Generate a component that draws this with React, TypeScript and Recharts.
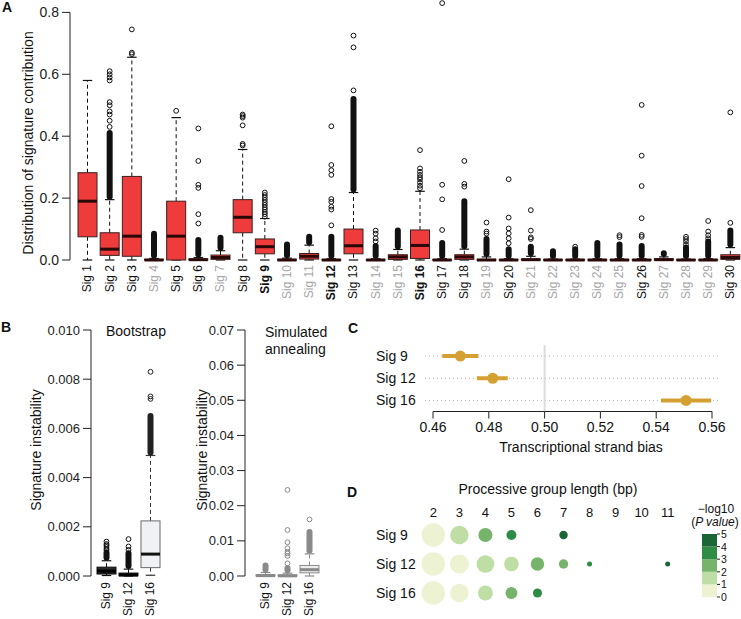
import React from 'react';
import {
  ComposedChart, Bar, XAxis, YAxis, ScatterChart, Scatter, ZAxis, ErrorBar,
  ReferenceLine, Cell, BarChart,
} from 'recharts';

const FONT = '"Liberation Sans", Arial, Helvetica, sans-serif';

// ---------------- Panel A data ----------------
const sigNames = Array.from({ length: 30 }, (_, i) => `Sig ${i + 1}`);
const sigBold = ['Sig 9', 'Sig 12', 'Sig 16'];
const sigGray = ['Sig 4', 'Sig 7', 'Sig 10', 'Sig 11', 'Sig 14', 'Sig 15', 'Sig 19', 'Sig 21',
  'Sig 22', 'Sig 23', 'Sig 24', 'Sig 25', 'Sig 27', 'Sig 28', 'Sig 29'];
const aTicks = [0, 0.2, 0.4, 0.6, 0.8];

const aWhiskerLow = [0, 0, 0, 0, 0, 0, 0, 0, 0, 0, 0, 0, 0, 0, 0, 0, 0, 0, 0, 0, 0, 0, 0, 0, 0, 0, 0, 0, 0, 0];
const aQ1 = [0.075, 0.015, 0.012, 0, 0, 0, 0.002, 0.088, 0.02, 0, 0.003, 0, 0.02, 0, 0.002, 0.005, 0, 0.002, 0, 0, 0, 0, 0, 0, 0, 0, 0, 0, 0, 0.002];
const aMedian = [0.19, 0.035, 0.077, 0, 0.077, 0.001, 0.008, 0.138, 0.043, 0, 0.012, 0, 0.046, 0, 0.01, 0.047, 0, 0.01, 0, 0, 0.001, 0, 0, 0, 0, 0, 0.001, 0, 0, 0.008];
const aQ3 = [0.282, 0.088, 0.27, 0.002, 0.19, 0.003, 0.016, 0.195, 0.068, 0.002, 0.021, 0.001, 0.1, 0.001, 0.017, 0.097, 0.001, 0.017, 0.002, 0.001, 0.003, 0.001, 0.001, 0.001, 0.001, 0.001, 0.004, 0.001, 0.001, 0.017];
const aWhiskerHigh = [0.58, 0.195, 0.655, 0.005, 0.46, 0.008, 0.03, 0.357, 0.134, 0.006, 0.048, 0.004, 0.218, 0.004, 0.034, 0.222, 0.004, 0.035, 0.01, 0.004, 0.012, 0.003, 0.003, 0.004, 0.004, 0.004, 0.01, 0.003, 0.004, 0.04];
const aDenseTop = [null, 0.41, null, 0.085, null, 0.065, 0.072, null, null, 0.05, 0.075, 0.075, 0.52, 0.045, 0.095, null, 0.055, 0.19, 0.068, 0.035, 0.043, 0.028, 0.035, 0.055, 0.05, 0.045, 0.022, 0.04, 0.06, 0.095];
const aOutliers = [
  [],
  [0.43, 0.45, 0.47, 0.48, 0.5, 0.51, 0.58, 0.59, 0.6, 0.61],
  [0.665, 0.67, 0.745],
  [],
  [0.482],
  [0.118, 0.148, 0.233, 0.243, 0.32, 0.425],
  [],
  [0.37, 0.375, 0.435, 0.46, 0.465, 0.47],
  [0.14, 0.148, 0.155, 0.163, 0.17, 0.178, 0.186, 0.194, 0.202, 0.21, 0.218],
  [],
  [],
  [0.112, 0.163, 0.172, 0.188, 0.197, 0.275, 0.29, 0.307, 0.432],
  [0.548, 0.687, 0.725],
  [0.06, 0.07, 0.085, 0.095],
  [],
  [0.232, 0.24, 0.25, 0.26, 0.267, 0.275, 0.285, 0.296, 0.355],
  [0.097, 0.196, 0.243, 0.83],
  [0.237, 0.246, 0.32],
  [0.085, 0.092, 0.121],
  [0.054, 0.07, 0.086, 0.102, 0.137, 0.261],
  [0.068, 0.073, 0.095, 0.161],
  [],
  [0.043],
  [],
  [0.074, 0.08],
  [0.075, 0.081, 0.135, 0.239, 0.337, 0.501],
  [],
  [0.05, 0.06, 0.068, 0.075],
  [0.07, 0.08, 0.092, 0.126],
  [0.12, 0.477],
];

// ---------------- Panel B data ----------------
const bSigs = ['Sig 9', 'Sig 12', 'Sig 16'];
const bootTicks = [0, 0.002, 0.004, 0.006, 0.008, 0.01];
const bootWhiskerLow = [0.00002, 0, 0.00003];
const bootQ1 = [0.00008, 0.00001, 0.00034];
const bootMedian = [0.0002, 0.00004, 0.00089];
const bootQ3 = [0.00036, 0.00012, 0.00224];
const bootWhiskerHigh = [0.00062, 0.00028, 0.0049];
const bootDenseTop = [0.00095, 0.00092, 0.0065];
const bootOutliers = [
  [0.00105, 0.0011, 0.00118, 0.00125, 0.0013, 0.0014],
  [0.00106, 0.0012, 0.0015],
  [0.0072, 0.0073, 0.0083],
];

const annTicks = [0, 0.01, 0.02, 0.03, 0.04, 0.05, 0.06, 0.07];
const annWhiskerLow = [0, 0, 0];
const annQ1 = [0, 0, 0.0009];
const annMedian = [0.0001, 0.00005, 0.0018];
const annQ3 = [0.0004, 0.0003, 0.003];
const annWhiskerHigh = [0.001, 0.0008, 0.0063];
const annDenseTop = [0.003, 0.0022, 0.0125];
const annOutliers = [
  [],
  [0.0036, 0.0057, 0.0064, 0.0069, 0.0079, 0.0096, 0.0131, 0.0245],
  [0.0161],
];

// ---------------- Panel C data ----------------
const biasSigs = ['Sig 9', 'Sig 12', 'Sig 16'];
const biasEstimate = [0.4698, 0.4814, 0.5507];
const biasLow = [0.4633, 0.4757, 0.5417];
const biasHigh = [0.4763, 0.4868, 0.5597];
const biasTicks = [0.46, 0.48, 0.5, 0.52, 0.54, 0.56];

// ---------------- Panel D data ----------------
const procSigs = ['Sig 9', 'Sig 12', 'Sig 16'];
const groupLengths = [2, 3, 4, 5, 6, 7, 8, 9, 10, 11];
const freqSig9 = [100, 62, 36, 18, null, 13, null, null, null, null];
const freqSig12 = [100, 66, 57, 39, 33, 16, 4.6, null, null, 4.6];
const freqSig16 = [100, 62, 41, 26, 15, null, null, null, null, null];
const logpSig9 = [0.4, 1.5, 2.5, 3.6, null, 4.5, null, null, null, null];
const logpSig12 = [0.3, 0.5, 1.4, 1.2, 2.4, 2.2, 3.3, null, null, 4.2];
const logpSig16 = [0.2, 0.6, 1.5, 2.6, 3.5, null, null, null, null, null];
const legendBreaks = [0, 1, 2, 3, 4, 5];

// ---------------- styles ----------------
const RED = '#ee3b3b';
const GOLD = '#d5a032';
const binColors = ['#edf3d2', '#bfdea6', '#76b46c', '#2e8c45', '#1b6636'];
const binColor = (v: number) => binColors[Math.min(binColors.length - 1, Math.floor(v))];

type BoxStyle = { fill: string; stroke: string; median: string; whisker: string; outlier: string };

const styleA = (): BoxStyle => ({ fill: RED, stroke: '#3a2020', median: '#2a0808', whisker: '#111', outlier: '#111' });
const styleBoot = (sig: string): BoxStyle =>
  sig === 'Sig 16'
    ? { fill: '#f0f1f4', stroke: '#6a6a6a', median: '#111', whisker: '#333', outlier: '#222' }
    : { fill: '#2a2a2a', stroke: '#111', median: '#000', whisker: '#111', outlier: '#111' };
const styleAnn = (): BoxStyle => ({ fill: '#eeeeee', stroke: '#8a8a8a', median: '#8a8a8a', whisker: '#8a8a8a', outlier: '#8a8a8a' });

// ---------------- helpers ----------------
function buildRows(names: string[], lo: number[], q1: number[], med: number[], q3: number[],
  hi: number[], dense: (number | null)[], outs: number[][]) {
  return names.map((sig, i) => {
    const top = Math.max(hi[i], dense[i] ?? 0, ...outs[i]);
    return { sig, lo: lo[i], q1: q1[i], med: med[i], q3: q3[i], hi: hi[i], dense: dense[i], outs: outs[i], span: [lo[i], top] };
  });
}

const rowsA = buildRows(sigNames, aWhiskerLow, aQ1, aMedian, aQ3, aWhiskerHigh, aDenseTop, aOutliers);
const rowsBoot = buildRows(bSigs, bootWhiskerLow, bootQ1, bootMedian, bootQ3, bootWhiskerHigh, bootDenseTop, bootOutliers);
const rowsAnn = buildRows(bSigs, annWhiskerLow, annQ1, annMedian, annQ3, annWhiskerHigh, annDenseTop, annOutliers);

const biasRows = biasSigs.map((sig, i) => ({
  sig, bias: biasEstimate[i], ci: [biasEstimate[i] - biasLow[i], biasHigh[i] - biasEstimate[i]],
}));

const procRows: { sig: string; len: number; freq: number; logp: number }[] = [];
[[freqSig9, logpSig9], [freqSig12, logpSig12], [freqSig16, logpSig16]].forEach(([f, p], s) => {
  groupLengths.forEach((len, j) => {
    if (f[j] != null && p[j] != null) procRows.push({ sig: procSigs[s], len, freq: f[j] as number, logp: p[j] as number });
  });
});

const legendRow: Record<string, any> = { k: 'bins' };
for (let i = 0; i < legendBreaks.length - 1; i++) legendRow[`b${i}`] = legendBreaks[i + 1] - legendBreaks[i];
const legendData = [legendRow];

function makeBoxShape(styleFor: (sig: string) => BoxStyle) {
  return (props: any) => {
    const { x, y, width, height, payload } = props;
    const [a, b] = payload.span;
    const py = (v: number) => y + (height * (b - v)) / (b - a);
    const s = styleFor(payload.sig);
    const cx = x + width / 2;
    const half = width / 2;
    const cap = width / 4;
    const r = 2.4;
    const yq1 = py(payload.q1), yq3 = py(payload.q3), yMed = py(payload.med);
    const yHi = py(payload.hi), yLo = py(payload.lo);
    const els: any[] = [];
    els.push(<line key="wu" x1={cx} x2={cx} y1={yq3} y2={yHi} stroke={s.whisker} strokeDasharray="4 3" />);
    els.push(<line key="wl" x1={cx} x2={cx} y1={yq1} y2={yLo} stroke={s.whisker} strokeDasharray="4 3" />);
    els.push(<line key="cu" x1={cx - cap} x2={cx + cap} y1={yHi} y2={yHi} stroke={s.whisker} strokeWidth={1.2} />);
    els.push(<line key="cl" x1={cx - cap} x2={cx + cap} y1={yLo} y2={yLo} stroke={s.whisker} strokeWidth={1.2} />);
    if (payload.dense != null) {
      const yt = py(payload.dense);
      els.push(<rect key="dn" x={cx - r - 0.6} width={2 * r + 1.2} y={yt - r - 0.6} height={Math.max(yHi - yt, 0) + r + 0.6} rx={r + 0.6} fill={s.outlier} />);
    }
    els.push(<rect key="bx" x={cx - half} y={yq3} width={width} height={Math.max(yq1 - yq3, 0)} fill={s.fill} stroke={s.stroke} strokeWidth={1} />);
    els.push(<line key="md" x1={cx - half} x2={cx + half} y1={yMed} y2={yMed} stroke={s.median} strokeWidth={3} />);
    payload.outs.forEach((v: number, i: number) => {
      els.push(<circle key={`o${i}`} cx={cx} cy={py(v)} r={r} fill="none" stroke={s.outlier} strokeWidth={1} />);
    });
    return <g>{els}</g>;
  };
}

const boxShapeA = makeBoxShape(styleA);
const boxShapeBoot = makeBoxShape(styleBoot);
const boxShapeAnn = makeBoxShape(styleAnn);

// y axis of panel A: line only between first and last tick (R style)
let aPrevY: number | null = null;
const aYTick = (p: any) => {
  if (p.index === 0) aPrevY = null;
  const axisX = p.x + 11;
  const seg = aPrevY !== null ? <line x1={axisX} x2={axisX} y1={aPrevY} y2={p.y} stroke="#222" /> : null;
  aPrevY = p.y;
  return (
    <g>
      {seg}
      <text x={p.x} y={p.y} dy={5} textAnchor="end" fontSize={14} fontFamily={FONT} fill="#222">{Number(p.payload.value).toFixed(1)}</text>
    </g>
  );
};

const aXTick = (p: any) => {
  const name = p.payload.value;
  const gray = sigGray.includes(name);
  const bold = sigBold.includes(name);
  return (
    <text transform={`translate(${p.x},${p.y}) rotate(-90)`} textAnchor="end" dy="0.36em" fontSize={12}
      fontFamily={FONT} fontWeight={bold ? 700 : 400} fill={gray ? '#a6a6a6' : '#111'}>{name}</text>
  );
};

const bXTick = (p: any) => (
  <text transform={`translate(${p.x},${p.y}) rotate(-90)`} textAnchor="end" dy="0.36em" fontSize={12}
    fontFamily={FONT} fill="#111">{p.payload.value}</text>
);

let cPrevX: number | null = null;
const cXTick = (p: any) => {
  if (p.index === 0) cPrevX = null;
  const axisY = p.y - 10;
  const seg = cPrevX !== null ? <line x1={cPrevX} x2={p.x} y1={axisY} y2={axisY} stroke="#222" /> : null;
  cPrevX = p.x;
  return (
    <g>
      {seg}
      <text x={p.x} y={p.y} dy={10} textAnchor="middle" fontSize={14} fontFamily={FONT} fill="#111">{Number(p.payload.value).toFixed(2)}</text>
    </g>
  );
};

const rowLabelTick = (p: any) => (
  <text x={16} y={p.y} dy={5} fontSize={14} fontFamily={FONT} fill="#111">{p.payload.value}</text>
);

const dXTick = (p: any) => (
  <text x={p.x} y={p.y} textAnchor="middle" fontSize={13} fontFamily={FONT} fill="#111">{p.payload.value}</text>
);

const legendTick = (p: any) => (
  <text x={p.x} y={p.y} dy={4} textAnchor="start" fontSize={10.5} fontFamily={FONT} fill="#111">{p.payload.value}</text>
);

const goldDot = (p: any) => <circle cx={p.cx} cy={p.cy} r={5.5} fill={GOLD} />;

const yTickStyle = { fontSize: 13, fill: '#222', fontFamily: FONT };

export default function App() {
  return (
    <div style={{ position: 'absolute', left: 0, top: 0, width: 741, height: 619, background: '#fff', overflow: 'hidden', fontFamily: FONT }}>
      {/* Panel A */}
      <div style={{ position: 'absolute', left: 0, top: 0 }}>
        <ComposedChart width={741} height={306} data={rowsA} margin={{ top: 0, right: 0, bottom: 0, left: 0 }} barSize={19}>
          <XAxis dataKey="sig" type="category" interval={0} tickLine={false} axisLine={false} height={46}
            tickSize={0} tickMargin={5} padding={{ left: 6, right: 0 }} tick={aXTick} />
          <YAxis type="number" domain={[0, 0.84]} ticks={aTicks} interval={0} width={70} axisLine={false}
            tickSize={8} tickMargin={3} tickLine={{ stroke: '#222' }} tick={aYTick} />
          <Bar dataKey="span" isAnimationActive={false} shape={boxShapeA} />
        </ComposedChart>
      </div>

      {/* Panel B - bootstrap */}
      <div style={{ position: 'absolute', left: 0, top: 320 }}>
        <ComposedChart width={161} height={299} data={rowsBoot} margin={{ top: 10, right: 0, bottom: 0, left: 0 }} barSize={19}>
          <XAxis dataKey="sig" type="category" interval={0} tickLine={false} axisLine={false} height={43}
            tickSize={0} tickMargin={6} padding={{ left: 4, right: 0 }} tick={bXTick} />
          <YAxis type="number" domain={[0, 0.01]} ticks={bootTicks} interval={0} width={91}
            axisLine={{ stroke: '#222' }} tickLine={{ stroke: '#222' }} tickSize={8} tickMargin={3}
            tickFormatter={(v: number) => v.toFixed(3)} tick={yTickStyle} />
          <Bar dataKey="span" isAnimationActive={false} shape={boxShapeBoot} />
        </ComposedChart>
      </div>

      {/* Panel B - simulated annealing */}
      <div style={{ position: 'absolute', left: 160, top: 320 }}>
        <ComposedChart width={160} height={299} data={rowsAnn} margin={{ top: 10, right: 0, bottom: 0, left: 0 }} barSize={19}>
          <XAxis dataKey="sig" type="category" interval={0} tickLine={false} axisLine={false} height={43}
            tickSize={0} tickMargin={6} padding={{ left: 9, right: 0 }} tick={bXTick} />
          <YAxis type="number" domain={[0, 0.07]} ticks={annTicks} interval={0} width={85}
            axisLine={{ stroke: '#222' }} tickLine={{ stroke: '#222' }} tickSize={8} tickMargin={3}
            tickFormatter={(v: number) => v.toFixed(2)} tick={yTickStyle} />
          <Bar dataKey="span" isAnimationActive={false} shape={boxShapeAnn} />
        </ComposedChart>
      </div>

      {/* Panel C */}
      <div style={{ position: 'absolute', left: 360, top: 335 }}>
        <ScatterChart width={381} height={125} margin={{ top: 10, right: 23, bottom: 0, left: 0 }}>
          <XAxis type="number" dataKey="bias" domain={[0.45713, 0.56215]} ticks={biasTicks} interval={0}
            height={48.5} axisLine={false} tickSize={7} tickMargin={3} tickLine={{ stroke: '#222' }} tick={cXTick} />
          <YAxis type="category" dataKey="sig" reversed allowDuplicatedCategory={false} width={65} interval={0}
            axisLine={false} tickLine={false} tick={rowLabelTick} />
          {biasSigs.map((s) => (
            <ReferenceLine key={s} y={s} stroke="#b0b0b0" strokeDasharray="1 3" />
          ))}
          <ReferenceLine x={0.5} stroke="#dcdcdc" strokeWidth={2} />
          <Scatter data={biasRows} isAnimationActive={false} shape={goldDot}>
            <ErrorBar dataKey="ci" direction="x" width={0} strokeWidth={4} stroke={GOLD} isAnimationActive={false} />
          </Scatter>
        </ScatterChart>
      </div>

      {/* Panel D */}
      <div style={{ position: 'absolute', left: 360, top: 495 }}>
        <ScatterChart width={330} height={115} margin={{ top: 0, right: 9.3, bottom: 2.5, left: 0 }}>
          <XAxis type="number" dataKey="len" orientation="top" domain={[1.5, 11.5]} ticks={groupLengths} interval={0}
            height={25.5} axisLine={false} tickLine={false} tickSize={0} tickMargin={3.5} tick={dXTick} />
          <YAxis type="category" dataKey="sig" reversed allowDuplicatedCategory={false} width={60.3} interval={0}
            axisLine={false} tickLine={false} tick={rowLabelTick} />
          <ZAxis type="number" dataKey="freq" domain={[0, 100]} range={[0, 430]} />
          <Scatter data={procRows} isAnimationActive={false}>
            {procRows.map((r, i) => <Cell key={i} fill={binColor(r.logp)} />)}
          </Scatter>
        </ScatterChart>
      </div>

      {/* Panel D legend */}
      <div style={{ position: 'absolute', left: 690, top: 525 }}>
        <BarChart width={51} height={82} data={legendData} margin={{ top: 9, right: 0, bottom: 10, left: 12 }} barCategoryGap={0}>
          <XAxis dataKey="k" hide />
          <YAxis orientation="right" type="number" domain={[0, 5]} ticks={legendBreaks} interval={0} width={24}
            axisLine={false} tickSize={3} tickMargin={1} tickLine={{ stroke: '#222' }} tick={legendTick} />
          {binColors.map((c, i) => (
            <Bar key={i} dataKey={`b${i}`} stackId="s" fill={c} isAnimationActive={false} />
          ))}
        </BarChart>
      </div>

      {/* Text overlay */}
      <svg width={741} height={619} style={{ position: 'absolute', left: 0, top: 0, pointerEvents: 'none' }} fontFamily={FONT}>
        <text x={2} y={12} fontSize={14} fontWeight={700} fill="#111">A</text>
        <text x={1} y={332} fontSize={14} fontWeight={700} fill="#111">B</text>
        <text x={348} y={333} fontSize={14} fontWeight={700} fill="#111">C</text>
        <text x={347} y={497} fontSize={14} fontWeight={700} fill="#111">D</text>
        <text transform="translate(33,143) rotate(-90)" textAnchor="middle" fontSize={14} fill="#111">Distribution of signature contribution</text>
        <text transform="translate(41,450) rotate(-90)" textAnchor="middle" fontSize={14} fill="#111">Signature instability</text>
        <text transform="translate(207,450) rotate(-90)" textAnchor="middle" fontSize={14} fill="#111">Signature instability</text>
        <text x={106} y={336} fontSize={14} fill="#111">Bootstrap</text>
        <text x={265} y={337} fontSize={14} fill="#111">Simulated</text>
        <text x={265} y={354} fontSize={14} fill="#111">annealing</text>
        <text x={581} y={452} textAnchor="middle" fontSize={14} fill="#111">Transcriptional strand bias</text>
        <text x={548} y={494} textAnchor="middle" fontSize={14} fill="#111">Processive group length (bp)</text>
        <text x={716} y={513} textAnchor="middle" fontSize={12} fill="#111">−log10</text>
        <text x={715} y={526} textAnchor="middle" fontSize={12} fill="#111">(<tspan fontStyle="italic">P value</tspan>)</text>
      </svg>
    </div>
  );
}
